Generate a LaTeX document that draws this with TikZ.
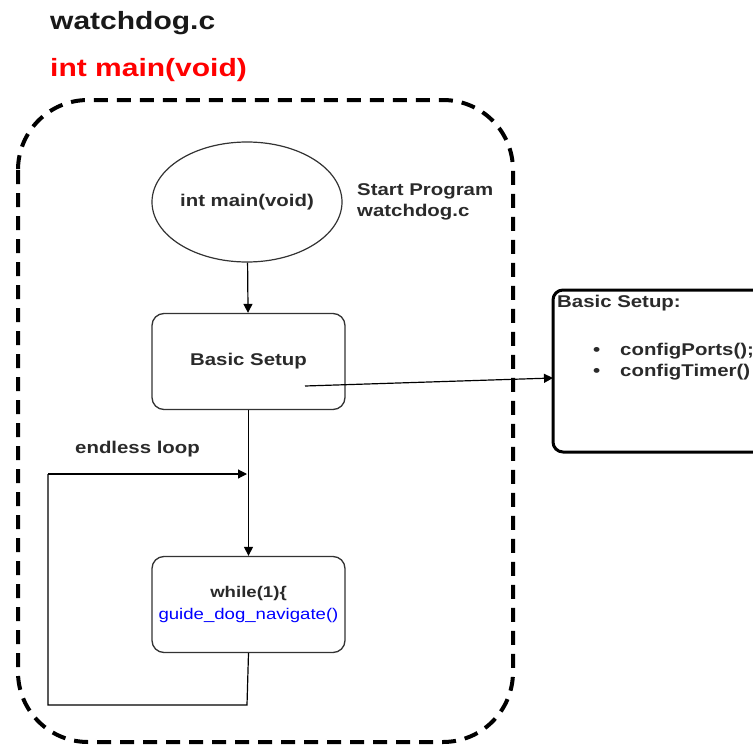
\documentclass[tikz,border=0pt]{standalone}
\usepackage{fontspec}
\setmainfont{Liberation Sans}[FakeStretch=1.2]
\usetikzlibrary{arrows.meta,shapes.geometric}
\definecolor{txt}{HTML}{2A2A2A}
\definecolor{navblue}{HTML}{0000FF}
\definecolor{titlered}{HTML}{FF0000}
\begin{document}
\begin{tikzpicture}[x=1pt,y=-1pt,
  flow/.style={draw=black!80,line width=1.3pt,rounded corners=12pt,minimum width=193pt,minimum height=96pt,align=center},
  conn/.style={line width=1.2pt,-{Triangle[length=9pt,width=9pt]}},
  plain/.style={line width=1.2pt},
  lbl/.style={font=\fontsize{17}{21}\selectfont\bfseries,text=txt}]
\useasboundingbox (0,0) rectangle (753,747);
\node[anchor=west,inner sep=0pt,font=\fontsize{25}{30}\selectfont\bfseries,text=black!90] (title) at (50,23) {watchdog.c};
\node[anchor=west,inner sep=0pt,font=\fontsize{25}{30}\selectfont\bfseries,text=titlered] (main) at (50,70) {int main(void)};
\draw[line width=4pt,dash pattern=on 14pt off 9pt,rounded corners=70pt] (18,100) rectangle (513,742);
\node[draw=black!80,line width=1.2pt,ellipse,inner sep=0pt,minimum width=190pt,minimum height=120pt,lbl] (start) at (247,202) {\makebox[0pt]{int main(void)}};
\node[anchor=west,inner sep=0pt,lbl,align=left] (startlbl) at (357,202) {Start Program\\watchdog.c};
\node[flow,lbl] (setup) at (248.5,361.5) {Basic Setup};
\node[flow,font=\fontsize{15.5}{22}\selectfont] (loop) at (248.5,604.5) {\textcolor{txt}{\bfseries while(1)\{}\\\textcolor{navblue}{guide\_dog\_navigate()}};
\draw[conn] (start) -- (setup);
\draw[conn] (setup) -- (loop);
\coordinate (linkstart) at (305,386);
\draw[black,line width=3pt,rounded corners=10pt] (553,290) rectangle (780,452);
\coordinate (detailin) at (553,378);
\node[anchor=north west,inner sep=0pt,lbl] (detailtitle) at (557,295) {Basic Setup:};
\node[anchor=west,inner sep=0pt,lbl,align=left] (detaillist) at (593,362) {\makebox[27pt][l]{•}configPorts();\\\makebox[27pt][l]{•}configTimer()};
\draw[conn] (linkstart) -- (detailin);
\coordinate (lb) at (247,705);
\coordinate (lbl1) at (48,705);
\coordinate (lbl2) at (48,474);
\coordinate (lbin) at (247,474);
\draw[plain] (loop.south) -- (lb) -- (lbl1) -- (lbl2);
\draw[conn] (lbl2) -- (lbin);
\node[anchor=west,inner sep=0pt,lbl] (endless) at (75,449) {endless loop};
\end{tikzpicture}
\end{document}
